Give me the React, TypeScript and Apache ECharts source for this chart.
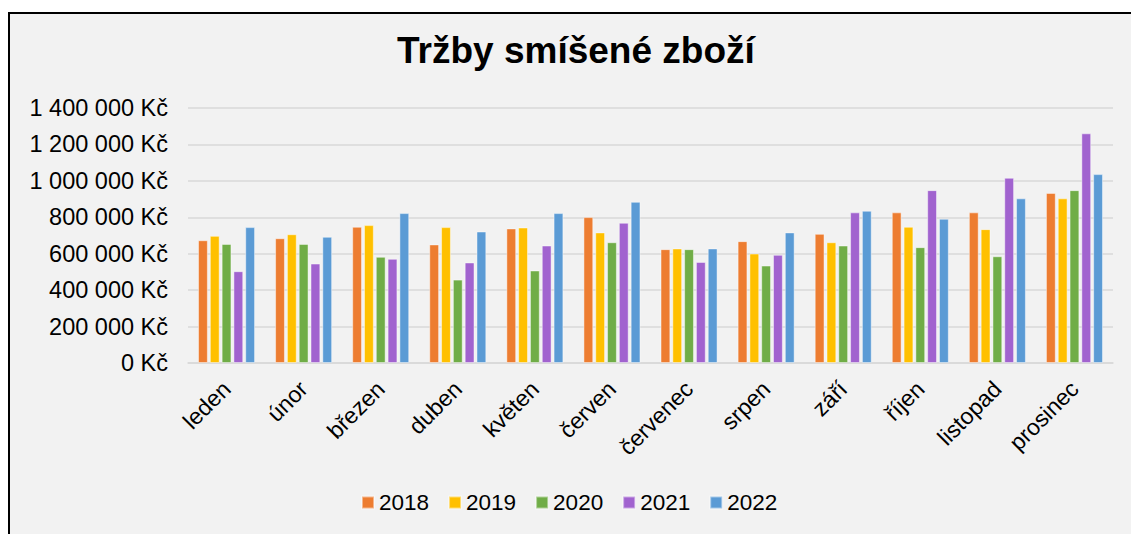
import React, { useEffect, useRef } from "react";
import * as echarts from "echarts";

const months = ["leden", "únor", "březen", "duben", "květen", "červen", "červenec", "srpen", "září", "říjen", "listopad", "prosinec"];
const years = ["2018", "2019", "2020", "2021", "2022"];
const colors = ["#ED7D31", "#FFC000", "#70AD47", "#A163CF", "#5B9BD5"];

const s2018 = [674000, 685000, 748000, 651000, 739000, 801000, 625000, 669000, 709000, 827000, 827000, 934000];
const s2019 = [698000, 707000, 757000, 746000, 744000, 717000, 629000, 601000, 663000, 748000, 735000, 904000];
const s2020 = [654000, 654000, 583000, 458000, 508000, 663000, 625000, 535000, 645000, 636000, 586000, 949000];
const s2021 = [504000, 546000, 572000, 552000, 645000, 770000, 555000, 594000, 827000, 949000, 1017000, 1261000];
const s2022 = [746000, 693000, 823000, 722000, 823000, 885000, 629000, 717000, 836000, 792000, 904000, 1037000];
const seriesData = [s2018, s2019, s2020, s2021, s2022];

const FONT = "'Liberation Sans', Arial, sans-serif";

function fmt(v: number): string {
  return String(v).replace(/\B(?=(\d{3})+(?!\d))/g, " ") + " Kč";
}

export default function App() {
  const ref = useRef<HTMLDivElement>(null);
  useEffect(() => {
    if (!ref.current) return;
    const chart = echarts.init(ref.current, undefined, { renderer: "svg" });
    chart.setOption({
      animation: false,
      backgroundColor: "transparent",
      title: {
        text: "Tržby smíšené zboží",
        left: 397,
        top: 32,
        padding: 0,
        textStyle: { fontFamily: FONT, fontSize: 37, fontWeight: "bold", color: "#000" },
      },
      legend: {
        data: years,
        left: 361,
        top: 491,
        padding: 0,
        itemWidth: 12,
        itemHeight: 12,
        itemGap: 19,
        icon: "rect",
        textStyle: { fontFamily: FONT, fontSize: 22.5, color: "#000" },
      },
      grid: { left: 188, right: 18, top: 108, bottom: 171, containLabel: false },
      xAxis: {
        type: "category",
        data: months,
        axisLine: { lineStyle: { color: "#d9d9d9", width: 1.5 } },
        axisTick: { show: false },
        axisLabel: { rotate: 45, margin: 22, fontFamily: FONT, fontSize: 23, color: "#000", interval: 0 },
      },
      yAxis: {
        type: "value",
        min: 0,
        max: 1400000,
        interval: 200000,
        axisLine: { show: false },
        axisTick: { show: false },
        splitLine: { lineStyle: { color: "#d9d9d9", width: 1.5 } },
        axisLabel: { margin: 20, fontFamily: FONT, fontSize: 23.5, color: "#000", formatter: (v: number) => fmt(v) },
      },
      series: years.map((y, i) => ({
        name: y,
        type: "bar",
        data: seriesData[i],
        barGap: "20%",
        barCategoryGap: "26%",
        itemStyle: { color: colors[i], borderColor: "rgba(255,255,255,0.45)", borderWidth: 1 },
      })),
    });
    return () => chart.dispose();
  }, []);
  return (
    <div style={{ position: "fixed", left: 0, top: 0, width: 1131, height: 534, overflow: "hidden", background: "#fff" }}>
      <div
        style={{
          position: "absolute",
          left: 8,
          top: 12,
          width: 1200,
          height: 600,
          borderTop: "2px solid #000",
          borderLeft: "2px solid #000",
          background: "#f2f2f2",
        }}
      />
      <div ref={ref} style={{ position: "absolute", left: 0, top: 0, width: 1131, height: 534 }} />
    </div>
  );
}
